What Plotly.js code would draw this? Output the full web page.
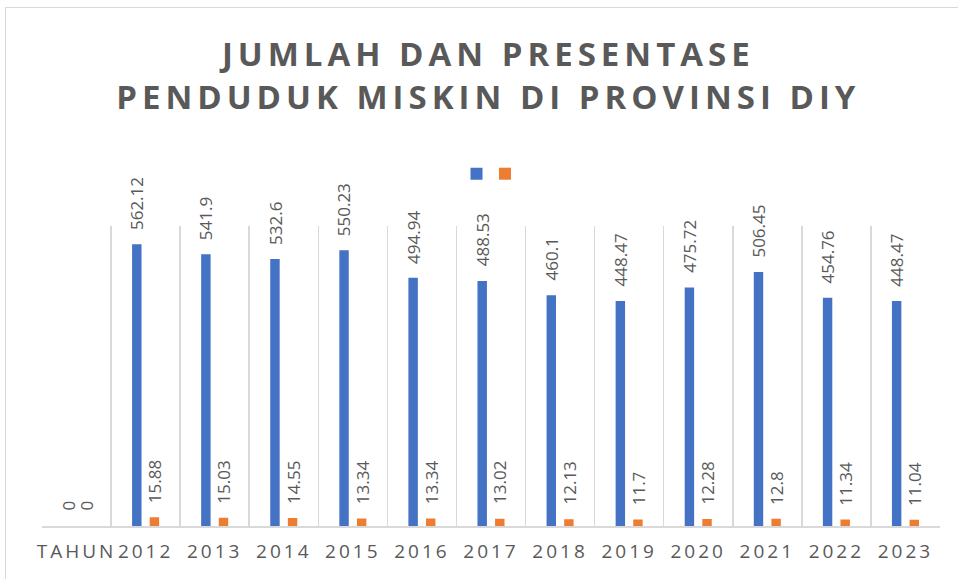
<!DOCTYPE html>
<html>
<head>
<meta charset="utf-8">
<script src="https://cdn.plot.ly/plotly-3.0.1.min.js"></script>
<style>
  html, body { margin: 0; padding: 0; background: #fff; overflow: hidden; }
  #frame { position: absolute; left: 5px; top: 7px; width: 1000px; height: 1000px;
           border: 1.5px solid #d9d9d9; box-sizing: border-box; pointer-events: none; z-index: 5; }
  #chart { position: absolute; left: 0; top: 0; width: 958px; height: 579px; }
  .gtitle { letter-spacing: 5px; }
  .xtick text { letter-spacing: 3px; }
</style>
</head>
<body>
<div id="chart"></div>
<div id="frame"></div>
<script>
// ---- data ----
const categories = ["TAHUN", "2012", "2013", "2014", "2015", "2016", "2017", "2018", "2019", "2020", "2021", "2022", "2023"];
const jumlahPendudukMiskin = [0, 562.12, 541.9, 532.6, 550.23, 494.94, 488.53, 460.1, 448.47, 475.72, 506.45, 454.76, 448.47];
const persentasePendudukMiskin = [0, 15.88, 15.03, 14.55, 13.34, 13.34, 13.02, 12.13, 11.7, 12.28, 12.8, 11.34, 11.04];
const titleText = "JUMLAH DAN PRESENTASE<br>PENDUDUK MISKIN DI PROVINSI DIY";

const blue = "#4472C4", orange = "#ED7D31", grey = "#595959";
const outline = vals => vals.map(v => (v > 0 ? 1.5 : 0));

const traces = [
  { type: "bar", name: "", legend: "legend", x: categories, y: jumlahPendudukMiskin,
    marker: { color: blue, line: { color: blue, width: outline(jumlahPendudukMiskin) } }, hoverinfo: "x+y" },
  { type: "bar", name: "", legend: "legend2", x: categories, y: persentasePendudukMiskin,
    marker: { color: orange, line: { color: orange, width: outline(persentasePendudukMiskin) } }, hoverinfo: "x+y" }
];

const labelFont = { family: "Open Sans", size: 17, color: grey };
const annotations = [];
[[jumlahPendudukMiskin, -9], [persentasePendudukMiskin, 9]].forEach(([vals, dx]) => {
  vals.forEach((v, i) => {
    annotations.push({
      x: i, y: v, xref: "x", yref: "y",   // category index on the category axis
      text: String(v), showarrow: false, textangle: -90,
      xanchor: "center", yanchor: "bottom", xshift: dx, yshift: 13,
      font: labelFont
    });
  });
});

const legendBase = { orientation: "h", xanchor: "left", y: 1.173, yanchor: "middle",
                     itemwidth: 30, font: { family: "Open Sans", size: 14, color: grey } };

const layout = {
  width: 958, height: 579,
  margin: { l: 42, r: 18, t: 226, b: 53 },
  paper_bgcolor: "rgba(0,0,0,0)", plot_bgcolor: "rgba(0,0,0,0)",
  title: {
    text: titleText, x: 0.497, xref: "paper", xanchor: "center",
    y: 0.886, yref: "container", yanchor: "middle",
    font: { family: "Open Sans", size: 33, color: grey, weight: "bold" }
  },
  barmode: "group", bargap: 0.49, bargroupgap: 0.55,
  showlegend: true,
  legend: Object.assign({}, legendBase, { x: 0.4616 }),
  legend2: Object.assign({}, legendBase, { x: 0.4933 }),
  xaxis: {
    type: "category", tickson: "boundaries", showgrid: true, gridcolor: "#d9d9d9", gridwidth: 1.5,
    showline: true, linecolor: "#d9d9d9", linewidth: 1.5, ticks: "", tickangle: 0,
    ticklabelstandoff: 8,
    range: [-0.5, categories.length - 0.5],
    tickfont: { family: "Open Sans", size: 19, color: grey }, zeroline: false
  },
  yaxis: { range: [0, 600], visible: false, showgrid: false, zeroline: false },
  annotations: annotations
};

Plotly.newPlot("chart", traces, layout, { displayModeBar: false, staticPlot: true });
</script>
</body>
</html>
